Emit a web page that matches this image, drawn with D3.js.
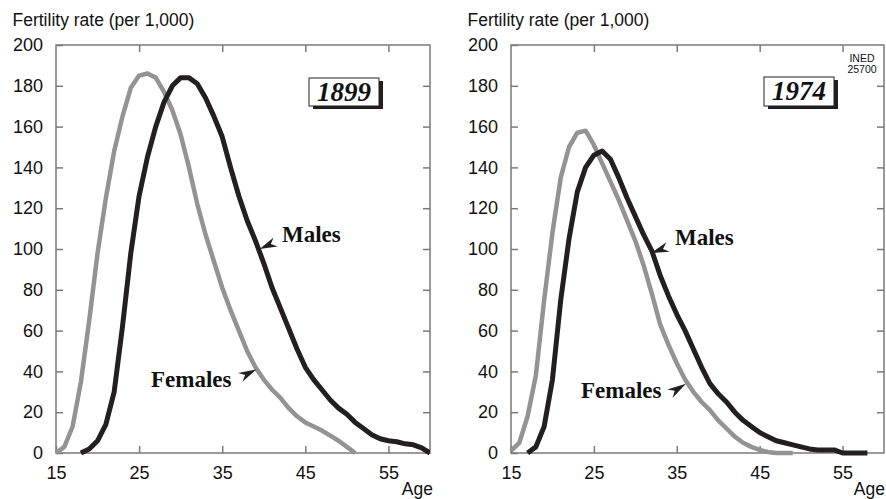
<!DOCTYPE html>
<html>
<head>
<meta charset="utf-8">
<script src="https://cdn.jsdelivr.net/npm/d3@7"></script>
<style>
  html, body { margin: 0; padding: 0; background: #fff; }
  svg { display: block; }
</style>
</head>
<body>
<svg id="chart" width="886" height="499"></svg>
<script>
// ---------- data ----------
const yTicks = [0, 20, 40, 60, 80, 100, 120, 140, 160, 180, 200];
const xTicks = [15, 25, 35, 45, 55];
const yTitle = "Fertility rate (per 1,000)";
const xTitle = "Age";

const ages1899F = d3.range(15, 52);
const females1899 = [0,3,13,35,65,98,125,148,165,179,185,186,184,177,168,156,140,122,107,94,81,70,60,50,42,36,31,27,22,18,15,13,11,8.5,6,3,0];
const ages1899M = d3.range(18, 61);
const males1899 = [0,2,6,14,30,62,98,126,145,160,172,180,184,184,181,174,165,155,140,126,114,104,93,81,71,61,51,42,36,31,26,22,19,15,12,9,7,6,5.5,4.5,4,2.5,0];

const ages1974F = d3.range(15, 50);
const females1974 = [1,5,18,38,75,108,135,150,157,158,151,142,133,124,114,104,92,78,63,53,44,36,30,25,21,16,12,8,5,3,1.5,0.5,0,0,0];
const ages1974M = d3.range(17, 59);
const males1974 = [0,3,13,36,75,105,128,140,146,148,144,135,125,116,107,99,87,77,68,60,51,42,34,29,25,20,16,13,10,8,6,5,4,3,2,1.5,1.5,1.5,0,0,0,0];

const years = ["1899", "1974"];
const seriesNames = ["Males", "Females"];

// ---------- drawing ----------
const svg = d3.select("#chart");
svg.append("rect").attr("width", 886).attr("height", 499).attr("fill", "#fff");

const BLACK = "#231f20", GREY = "#939393", FRAME = "#7a7a7a";
const sans = "'Liberation Sans', Arial, Helvetica, sans-serif";
const serif = "'Liberation Serif', 'Times New Roman', serif";

const panels = [
  { left: 56, right: 430, year: years[0], ageRight: 433,
    F: { ages: ages1899F, vals: females1899 }, M: { ages: ages1899M, vals: males1899 },
    males: { tip: [39.5, 100], back: [16, -7], text: [282, 242] },
    females: { tip: [39.1, 41], back: [-16, 8], text: [151, 387] },
    box: [309, 78, 70, 28], ined: false },
  { left: 511, right: 884, year: years[1], ageRight: 885,
    F: { ages: ages1974F, vals: females1974 }, M: { ages: ages1974M, vals: males1974 },
    males: { tip: [31.9, 98], back: [17, -6], text: [675, 245] },
    females: { tip: [36.1, 34], back: [-16, 10], text: [581, 398] },
    box: [764, 77, 70, 29], ined: true }
];

const plotTop = 45, plotBottom = 453;

panels.forEach(p => {
  const x = d3.scaleLinear().domain([15, 60]).range([p.left, p.right]);
  const y = d3.scaleLinear().domain([0, 200]).range([plotBottom, plotTop]);
  const g = svg.append("g");

  // frame
  g.append("rect").attr("x", p.left).attr("y", plotTop)
    .attr("width", p.right - p.left).attr("height", plotBottom - plotTop)
    .attr("fill", "none").attr("stroke", FRAME).attr("stroke-width", 1.5);

  const styleAxis = (sel) => {
    sel.select(".domain").remove();
    sel.selectAll(".tick line").attr("stroke", FRAME).attr("stroke-width", 1.5);
    sel.selectAll(".tick text").attr("fill", "#111").attr("font-family", sans).attr("font-size", 18);
  };

  g.append("g").attr("transform", `translate(${p.left},0)`)
    .call(d3.axisLeft(y).tickValues(yTicks).tickSize(-7).tickPadding(13).tickSizeOuter(0))
    .call(styleAxis);
  g.append("g").attr("transform", `translate(${p.right},0)`)
    .call(d3.axisRight(y).tickValues(yTicks.slice(1, -1)).tickSize(-7).tickFormat("").tickSizeOuter(0))
    .call(styleAxis);
  g.append("g").attr("transform", `translate(0,${plotBottom})`)
    .call(d3.axisBottom(x).tickValues(xTicks).tickSize(-7).tickPadding(13).tickSizeOuter(0))
    .call(styleAxis);
  g.append("g").attr("transform", `translate(0,${plotTop})`)
    .call(d3.axisTop(x).tickValues(xTicks.slice(1)).tickSize(-7).tickFormat("").tickSizeOuter(0))
    .call(styleAxis);

  // titles
  g.append("text").attr("x", p.left - 43.5).attr("y", 26)
    .attr("font-family", sans).attr("font-size", 17.5).attr("fill", "#111").text(yTitle);
  g.append("text").attr("x", p.ageRight).attr("y", 495).attr("text-anchor", "end")
    .attr("font-family", sans).attr("font-size", 17.5).attr("fill", "#111").text(xTitle);

  // lines
  const line = d3.line().x(d => x(d[0])).y(d => y(d[1]));
  const clipId = "clip" + p.year;
  svg.append("clipPath").attr("id", clipId).append("rect")
    .attr("x", p.left - 3).attr("y", plotTop).attr("width", p.right - p.left + 3).attr("height", plotBottom - plotTop + 3);
  const lg = g.append("g").attr("clip-path", `url(#${clipId})`);
  lg.append("path").datum(p.F.ages.map((a, i) => [a, p.F.vals[i]]))
    .attr("d", line).attr("fill", "none").attr("stroke", GREY).attr("stroke-width", 4.5)
    .attr("stroke-linejoin", "round");
  lg.append("path").datum(p.M.ages.map((a, i) => [a, p.M.vals[i]]))
    .attr("d", line).attr("fill", "none").attr("stroke", BLACK).attr("stroke-width", 5)
    .attr("stroke-linejoin", "round");

  // annotations
  const arrow = (ann) => {
    const tx = x(ann.tip[0]), ty = y(ann.tip[1]);
    const [dx, dy] = ann.back;
    const L = Math.hypot(dx, dy), ux = dx / L, uy = dy / L, nx = -uy, ny = ux;
    const w = 5;
    const pts = [
      [tx, ty],
      [tx + dx + nx * w, ty + dy + ny * w],
      [tx + dx * 0.7, ty + dy * 0.7],
      [tx + dx - nx * w, ty + dy - ny * w]
    ];
    g.append("path").attr("d", "M" + pts.map(q => q.join(",")).join("L") + "Z").attr("fill", BLACK);
  };
  [["males", seriesNames[0]], ["females", seriesNames[1]]].forEach(([k, label]) => {
    const ann = p[k];
    arrow(ann);
    g.append("text").attr("x", ann.text[0]).attr("y", ann.text[1])
      .attr("font-family", serif).attr("font-weight", "bold").attr("font-size", 23)
      .attr("fill", "#111").text(label);
  });

  // year box
  const [bx, by, bw, bh] = p.box;
  g.append("rect").attr("x", bx + 4).attr("y", by + 3).attr("width", bw).attr("height", bh).attr("fill", BLACK);
  g.append("rect").attr("x", bx).attr("y", by).attr("width", bw).attr("height", bh)
    .attr("fill", "#fff").attr("stroke", BLACK).attr("stroke-width", 1);
  g.append("text").attr("x", bx + bw / 2).attr("y", by + 23).attr("text-anchor", "middle")
    .attr("font-family", serif).attr("font-weight", "bold").attr("font-style", "italic")
    .attr("font-size", 27).attr("fill", "#111").text(p.year);

  if (p.ined) {
    const t = g.append("text").attr("text-anchor", "middle").attr("font-family", sans)
      .attr("font-size", 10.5).attr("fill", "#111");
    t.append("tspan").attr("x", 862).attr("y", 62).text("INED");
    t.append("tspan").attr("x", 862).attr("y", 72.5).text("25700");
  }
});
</script>
</body>
</html>
